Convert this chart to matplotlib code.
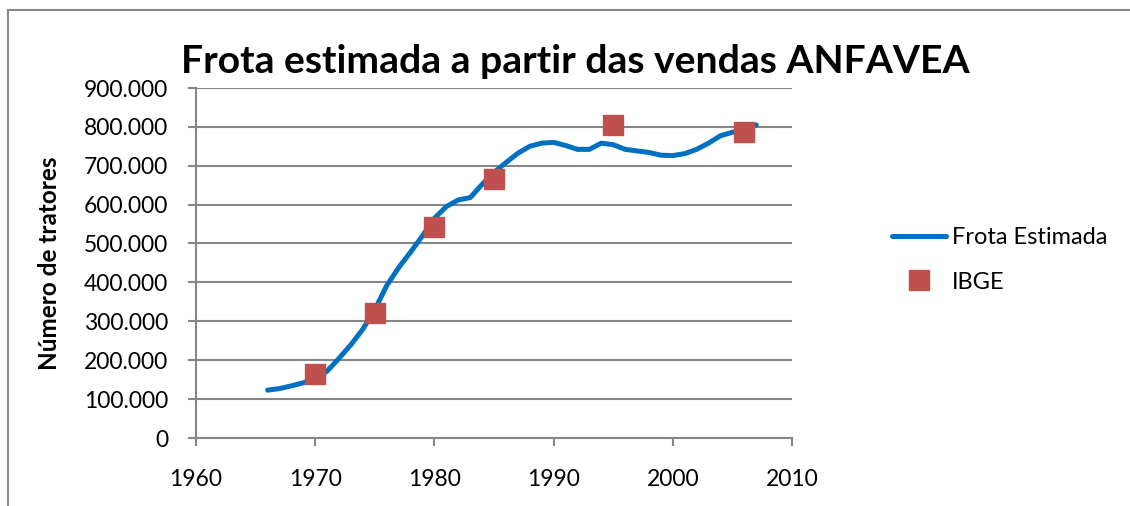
import matplotlib
matplotlib.use("Agg")
import matplotlib.pyplot as plt
from matplotlib.ticker import FuncFormatter, MultipleLocator
from matplotlib.lines import Line2D

plt.rcParams["font.family"] = ["Lato", "DejaVu Sans"]

# Frota estimada (ANFAVEA), ano a ano
anos = list(range(1966, 2008))
frota = [123000, 127000, 134000, 142000, 152000, 172000, 205000, 240000,
         280000, 330000, 392000, 438000, 478000, 520000, 565000, 595000,
         612000, 618000, 652000, 683000, 708000, 732000, 750000, 758000,
         760000, 752000, 742000, 742000, 758000, 754000, 742000, 738000,
         734000, 727000, 726000, 731000, 742000, 758000, 777000, 786000,
         793000, 805000]

# Censos IBGE
anos_ibge = [1970, 1975, 1980, 1985, 1995, 2006]
ibge = [165000, 322000, 543000, 665000, 804000, 787000]

grey = "#868686"
fs = 16.5

fig = plt.figure(figsize=(11.3, 5.061), dpi=100)
ax = fig.add_axes([0.1735, 0.1344, 0.5274, 0.6917])

ax.plot(anos, frota, color="#0070C0", lw=3.6, solid_capstyle="round",
        label="Frota Estimada", zorder=3)
ax.plot(anos_ibge, ibge, ls="none", marker="s", ms=14.5, color="#C0504D",
        mec="#C0504D", label="IBGE", zorder=4)

ax.set_xlim(1960, 2010)
ax.set_ylim(0, 900000)
ax.xaxis.set_major_locator(MultipleLocator(10))
ax.yaxis.set_major_locator(MultipleLocator(100000))
ax.yaxis.set_major_formatter(FuncFormatter(
    lambda v, p: "0" if v == 0 else f"{int(v):,}".replace(",", ".")))

ax.grid(axis="y", color=grey, lw=1.5)
ax.set_axisbelow(True)
for s in ["top", "right"]:
    ax.spines[s].set_visible(False)
for s in ["left", "bottom"]:
    ax.spines[s].set_color(grey)
    ax.spines[s].set_linewidth(1.5)
ax.tick_params(axis="both", direction="out", length=6, width=1.5, color=grey,
               labelsize=fs, labelcolor="black")
ax.tick_params(axis="y", pad=14)
ax.tick_params(axis="x", pad=16)

ax.set_ylabel("Número de tratores", fontsize=17.5, fontweight="bold")
ax.yaxis.set_label_coords(-0.226, 0.5)
fig.text(0.509, 0.879, "Frota estimada a partir das vendas ANFAVEA",
         ha="center", va="center", fontsize=28.2, fontweight="bold")

leg = ax.legend(loc="center left", bbox_to_anchor=(1.168, 0.509), frameon=False,
                fontsize=17, handlelength=2.3, handletextpad=0.25,
                labelspacing=1.0, borderaxespad=0, borderpad=0)

# chart border (only left and top fall inside the picture)
x0 = 8 / 1130
y0 = 1 - 10 / 506
fig.add_artist(Line2D([x0, x0], [0, y0], transform=fig.transFigure, color=grey, lw=1.5))
fig.add_artist(Line2D([x0, 1], [y0, y0], transform=fig.transFigure, color=grey, lw=1.5))

fig.savefig("out.png", dpi=100)
